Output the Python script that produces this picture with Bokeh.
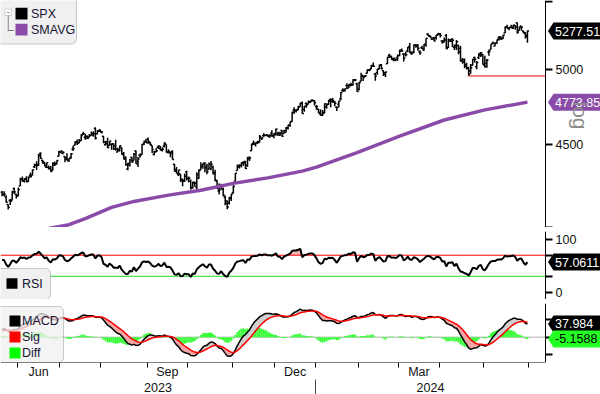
import math
import numpy as np
import pandas as pd
from bokeh.plotting import figure
from bokeh.layouts import column
from bokeh.models import Range1d, FixedTicker, Label, BoxAnnotation, PolyAnnotation, LinearAxis
from bokeh.embed import file_html
from bokeh.resources import INLINE

# ---------------- data ----------------
start_date = "2023-05-19"
end_date = "2024-05-31"
market_holidays = ["2023-05-29", "2023-06-19", "2023-07-04", "2023-09-04", "2023-11-23",
                   "2023-12-25", "2024-01-01", "2024-01-15", "2024-02-19", "2024-03-29", "2024-05-27"]

spx_open = [
    4204, 4191, 4177, 4132, 4155, 4157, 4226, 4191,
    4184, 4241, 4283, 4271, 4285, 4268, 4305, 4308, 4358, 4367, 4366, 4440, 4396, 4380, 4355, 4354, 4345, 4338, 4367, 4377, 4423,
    4450, 4442, 4422, 4405, 4394, 4415, 4467, 4492, 4514, 4508, 4521, 4563, 4543, 4550, 4544, 4555, 4558, 4599, 4565, 4584,
    4578, 4550, 4495, 4514, 4491, 4498, 4502, 4487, 4450, 4459, 4478, 4433, 4416, 4344, 4380, 4416, 4397, 4456, 4390, 4427, 4433, 4500, 4518,
    4530, 4510, 4490, 4434, 4451, 4480, 4474, 4462, 4487, 4497, 4446, 4445, 4452, 4374, 4341, 4311, 4313, 4282, 4269, 4328,
    4285, 4269, 4234, 4259, 4235, 4289, 4339, 4367, 4381, 4360, 4343, 4346, 4357, 4321, 4273, 4211, 4236, 4222, 4175, 4152, 4140, 4172,
    4201, 4268, 4335, 4364, 4366, 4384, 4391, 4365, 4406, 4458, 4505, 4497, 4510, 4511, 4539, 4553, 4555, 4555, 4546, 4571, 4554,
    4559, 4565, 4557, 4586, 4568, 4576, 4601, 4619, 4646, 4721, 4714, 4725, 4743, 4764, 4724, 4764, 4759, 4773, 4786, 4783,
    4745, 4726, 4697, 4690, 4704, 4742, 4759, 4792, 4792, 4773, 4739, 4760, 4797, 4853, 4856, 4888, 4886, 4888, 4892, 4925, 4899,
    4862, 4916, 4951, 4951, 4973, 4996, 5004, 5026, 4968, 4976, 5004, 5032, 4990, 4963, 5039, 5100, 5094, 5074, 5067, 5085,
    5098, 5131, 5110, 5109, 5133, 5164, 5112, 5124, 5174, 5176, 5124, 5154, 5139, 5181, 5254, 5243, 5219, 5228, 5227, 5248,
    5257, 5204, 5194, 5245, 5159, 5211, 5217, 5158, 5172, 5171, 5149, 5065, 5068, 5032, 5006, 4988, 5029, 5085, 5019, 5085, 5114, 5103,
    5029, 5043, 5123, 5142, 5187, 5168, 5190, 5226, 5234, 5222, 5263, 5310, 5303, 5305, 5298, 5319, 5340, 5282, 5315, 5278, 5260, 5244,
]
spx_high = [
    4212, 4210, 4186, 4133, 4165, 4213, 4231, 4195,
    4232, 4291, 4299, 4289, 4300, 4299, 4322, 4340, 4376, 4392, 4439, 4448, 4401, 4387, 4382, 4366, 4363, 4385, 4391, 4398, 4458,
    4457, 4454, 4423, 4441, 4412, 4443, 4489, 4517, 4528, 4532, 4562, 4578, 4565, 4555, 4564, 4580, 4582, 4607, 4590, 4595,
    4584, 4551, 4519, 4540, 4520, 4504, 4503, 4527, 4477, 4491, 4478, 4449, 4421, 4382, 4408, 4418, 4444, 4459, 4418, 4440, 4500, 4521, 4532,
    4541, 4514, 4491, 4458, 4473, 4490, 4487, 4479, 4511, 4497, 4467, 4452, 4461, 4375, 4357, 4338, 4313, 4285, 4317, 4334,
    4298, 4281, 4267, 4268, 4324, 4341, 4385, 4378, 4385, 4377, 4384, 4393, 4365, 4339, 4276, 4256, 4255, 4232, 4184, 4156, 4178, 4194,
    4245, 4319, 4372, 4373, 4386, 4392, 4393, 4419, 4421, 4504, 4522, 4511, 4521, 4557, 4540, 4569, 4560, 4561, 4562, 4588, 4569,
    4599, 4578, 4578, 4590, 4591, 4610, 4623, 4644, 4709, 4739, 4726, 4749, 4769, 4778, 4748, 4772, 4785, 4785, 4793, 4789,
    4755, 4729, 4727, 4721, 4764, 4765, 4790, 4798, 4802, 4782, 4745, 4784, 4842, 4868, 4866, 4903, 4898, 4906, 4930, 4932, 4906,
    4911, 4976, 4958, 4960, 4999, 5000, 5030, 5048, 4975, 5003, 5032, 5038, 4994, 4983, 5088, 5111, 5097, 5082, 5077, 5105,
    5140, 5149, 5114, 5128, 5160, 5190, 5125, 5179, 5179, 5180, 5136, 5170, 5180, 5225, 5261, 5247, 5229, 5236, 5249, 5265,
    5263, 5208, 5229, 5256, 5222, 5219, 5224, 5178, 5211, 5176, 5168, 5080, 5077, 5046, 5019, 5038, 5076, 5089, 5057, 5114, 5124, 5110,
    5096, 5074, 5140, 5181, 5200, 5192, 5215, 5240, 5238, 5250, 5311, 5325, 5305, 5325, 5324, 5323, 5342, 5311, 5316, 5282, 5271, 5281,
]
spx_low = [
    4180, 4180, 4143, 4103, 4129, 4155, 4193, 4167,
    4181, 4241, 4267, 4262, 4264, 4266, 4292, 4305, 4350, 4338, 4363, 4407, 4378, 4360, 4351, 4341, 4328, 4335, 4363, 4372, 4422,
    4442, 4436, 4385, 4397, 4389, 4408, 4456, 4490, 4494, 4505, 4520, 4557, 4527, 4532, 4541, 4552, 4547, 4528, 4563, 4577,
    4567, 4505, 4490, 4474, 4491, 4464, 4462, 4458, 4448, 4453, 4433, 4404, 4364, 4336, 4360, 4382, 4397, 4376, 4356, 4414, 4432, 4493, 4507,
    4501, 4492, 4443, 4430, 4448, 4468, 4459, 4453, 4478, 4447, 4442, 4416, 4402, 4329, 4316, 4302, 4265, 4239, 4265, 4274,
    4262, 4220, 4225, 4236, 4219, 4284, 4339, 4345, 4325, 4312, 4343, 4337, 4312, 4269, 4224, 4190, 4220, 4181, 4127, 4104, 4132, 4153,
    4197, 4268, 4335, 4347, 4354, 4363, 4344, 4358, 4393, 4458, 4495, 4485, 4500, 4511, 4525, 4546, 4552, 4546, 4540, 4547, 4537,
    4554, 4551, 4551, 4546, 4566, 4575, 4593, 4611, 4644, 4695, 4704, 4720, 4743, 4697, 4709, 4737, 4759, 4768, 4780, 4752,
    4723, 4700, 4683, 4682, 4700, 4730, 4757, 4740, 4769, 4747, 4715, 4740, 4786, 4844, 4845, 4866, 4870, 4882, 4888, 4917, 4845,
    4853, 4916, 4919, 4944, 4970, 4987, 5001, 5017, 4920, 4962, 5001, 4999, 4954, 4946, 5038, 5081, 5068, 5058, 5058, 5061,
    5095, 5127, 5056, 5092, 5122, 5117, 5104, 5114, 5155, 5132, 5104, 5146, 5132, 5162, 5240, 5230, 5215, 5203, 5214, 5248,
    5229, 5184, 5194, 5146, 5153, 5197, 5160, 5138, 5139, 5108, 5053, 5040, 5007, 4998, 4953.56, 4969, 5027, 5047, 5001, 5073, 5088, 5035,
    5013, 5012, 5096, 5142, 5182, 5166, 5183, 5208, 5212, 5218, 5263, 5296, 5284, 5298, 5293, 5287, 5257, 5279, 5281, 5262, 5222, 5192,
]
spx_close = [
    4191.98, 4192.63, 4145.58, 4115.24, 4151.28, 4205.45, 4205.52, 4179.83,
    4221.02, 4282.37, 4273.79, 4283.85, 4267.52, 4293.93, 4298.86, 4338.93, 4369.01, 4372.59, 4425.84, 4409.59, 4388.71,
    4365.69, 4381.89, 4348.33, 4328.82, 4378.41, 4376.86, 4396.44, 4450.38,
    4455.59, 4446.82, 4411.59, 4398.95, 4409.53, 4439.26, 4472.16, 4510.04, 4505.42, 4522.79, 4554.98, 4565.72, 4534.87,
    4536.34, 4554.64, 4567.46, 4566.75, 4537.41, 4582.23, 4588.96,
    4576.73, 4513.39, 4501.89, 4478.03, 4518.44, 4499.38, 4467.71, 4468.83, 4464.05, 4489.72, 4437.86, 4404.33, 4370.36,
    4369.71, 4399.77, 4387.55, 4436.01, 4376.31, 4405.71, 4433.31, 4497.63, 4514.87, 4507.66,
    4515.77, 4496.83, 4465.48, 4451.14, 4457.49, 4487.46, 4461.90, 4467.44, 4505.10, 4450.32, 4453.53, 4443.95, 4402.20,
    4330.00, 4320.06, 4337.44, 4273.53, 4274.51, 4299.70, 4288.05,
    4288.39, 4229.45, 4263.75, 4258.19, 4308.50, 4335.66, 4358.24, 4376.95, 4349.61, 4327.78, 4373.63, 4373.20, 4314.60,
    4278.00, 4224.16, 4217.04, 4247.68, 4186.77, 4137.23, 4117.37, 4166.82, 4193.80,
    4237.86, 4317.78, 4358.34, 4365.98, 4378.38, 4382.78, 4347.35, 4415.24, 4411.55, 4495.70, 4502.88, 4508.24, 4514.02,
    4547.38, 4538.19, 4556.62, 4559.34, 4550.43, 4554.89, 4550.58, 4567.80,
    4594.63, 4569.78, 4567.18, 4549.34, 4585.59, 4604.37, 4622.44, 4643.70, 4707.09, 4719.55, 4719.19, 4740.56, 4768.37,
    4698.35, 4746.75, 4754.63, 4774.75, 4781.58, 4783.35, 4769.83,
    4742.83, 4704.81, 4688.68, 4697.24, 4763.54, 4756.50, 4783.45, 4780.24, 4783.83, 4765.98, 4739.21, 4780.94, 4839.81,
    4850.43, 4864.60, 4868.55, 4894.16, 4890.97, 4927.93, 4924.97, 4845.65,
    4906.19, 4958.61, 4942.81, 4954.23, 4995.06, 4997.91, 5026.61, 5021.84, 4953.17, 5000.62, 5029.73, 5005.57, 4975.51,
    4981.80, 5087.03, 5088.80, 5069.53, 5078.18, 5069.76, 5096.27,
    5137.08, 5130.95, 5078.65, 5104.76, 5157.36, 5123.69, 5117.94, 5175.27, 5165.31, 5150.48, 5117.09, 5149.42, 5178.51,
    5224.62, 5241.53, 5234.18, 5218.19, 5203.58, 5248.49, 5254.35,
    5243.77, 5205.81, 5211.49, 5147.21, 5204.34, 5202.39, 5209.91, 5160.64, 5199.06, 5123.41, 5061.82, 5051.41, 5022.21,
    5011.12, 4967.23, 5010.60, 5070.55, 5071.63, 5048.42, 5099.96, 5116.17, 5035.69,
    5018.39, 5064.20, 5127.79, 5180.74, 5187.70, 5187.67, 5214.08, 5222.68, 5221.42, 5246.68, 5308.15, 5297.10, 5303.27,
    5308.13, 5321.41, 5307.01, 5267.84, 5304.72, 5306.04, 5266.95, 5235.48, 5277.51,
]
# closes before the visible window (Mar 1 - May 18 2023), used only to start RSI / MACD
warmup_close = [
    3951.39, 3981.35, 4045.64, 4048.42, 3986.37, 3992.01, 3918.32, 3861.59, 3855.76, 3919.29, 3891.93, 3960.28,
    3916.64, 3951.57, 4002.87, 3936.97, 3948.72, 3970.99, 3977.53, 3971.27, 4027.81, 4050.83, 4109.31,
    4124.51, 4100.60, 4090.38, 4105.02, 4109.11, 4108.94, 4091.95, 4146.22, 4137.64, 4151.32, 4154.87, 4154.52,
    4129.79, 4133.52, 4137.04, 4071.63, 4055.99, 4135.35, 4169.48,
    4167.87, 4119.58, 4090.75, 4061.22, 4136.25, 4138.12, 4119.17, 4137.64, 4130.62, 4124.08, 4136.28, 4109.90,
    4158.77, 4198.05,
]
# 200-day moving average (SMAVG); day 0 = 1 Jun 2023
sma_day = [-8, 0, 15, 25, 33, 46, 57, 74, 90, 106, 123, 140, 147, 167, 188, 210, 230, 251]
sma_value = [3945, 3962, 3994, 4016, 4050, 4115, 4150, 4187, 4216, 4257, 4290, 4331, 4356, 4446, 4551, 4655, 4722, 4773.85]

last_spx = "5277.51"
last_sma = "4773.85"
last_rsi = "57.0611"
last_macd = "37.984"
last_diff = "-5.1588"
rsi_levels = [70, 30]
main_ticks = [4000, 4500, 5000, 5500]
main_tick_labels = {4000: "", 4500: "4500", 5000: "5000", 5500: ""}
rsi_ticks = [0, 30, 70, 100]
rsi_tick_labels = {0: "0", 30: "", 70: "", 100: "100"}
macd_ticks = [-50, 0, 50]
macd_tick_labels = {-50: "", 0: "", 50: ""}
month_label_names = ["Jun", "Sep", "Dec", "Mar"]

# ---------------- derived series ----------------
n = len(spx_close)
dt = pd.bdate_range(start_date, end_date)
dt = dt[~dt.isin(pd.to_datetime(market_holidays))][:n]
first_jun = int(np.argmax(dt >= pd.Timestamp("2023-06-01")))
xi = (np.arange(n) - first_jun).astype(float)

allc = pd.Series(warmup_close + spx_close, dtype=float)
ema12 = allc.ewm(span=12, adjust=False).mean()
ema26 = allc.ewm(span=26, adjust=False).mean()
macd_all = ema12 - ema26
sig_all = macd_all.ewm(span=9, adjust=False).mean()
d = allc.diff().fillna(0.0)
ag = d.clip(lower=0).ewm(alpha=1 / 14, adjust=False).mean()
al = (-d.clip(upper=0)).ewm(alpha=1 / 14, adjust=False).mean()
rsi_all = 100 - 100 / (1 + ag / al)
macd = macd_all.values[-n:]
sig = sig_all.values[-n:]
diff = macd - sig
rsi = rsi_all.values[-n:]

bounds, bnames = [], []
for i in range(1, n):
    if dt[i].month != dt[i - 1].month:
        bounds.append(float(xi[i]) - 0.5)
        bnames.append(dt[i].strftime("%b"))
bounds.append(float(xi[-1]) + 0.5)
bnames.append("end")
mlab_pos, mlab_txt = [], []
for k in range(len(bounds) - 1):
    if bnames[k] in month_label_names:
        mlab_pos.append((bounds[k] + bounds[k + 1]) / 2)
        mlab_txt.append(bnames[k])
jan_bound = bounds[bnames.index("Jan")]

# ---------------- layout ----------------
W = 600
PW = 545                      # width of the data area left of the price axis
H1, HS, H2, H3, HB = 227, 4, 68, 59, 32
X0, XA = -8.78, 259.9         # visible day range up to the axis line
PXX = PW / (XA - X0)
XE = X0 + W / PXX             # right edge of the canvas
Y1A, Y1B = 4000, 5510
Y2A, Y2B = -14, 115
Y3A, Y3B = -73, 97
FONT = "Liberation Sans"
TXT = "#141432"
PURPLE = "#8a4ba8"
xr = Range1d(X0, XE)

def fx(px):
    return X0 + px / PXX

def fy1(py):
    return math.exp(math.log(Y1B) - py * (math.log(Y1B) - math.log(Y1A)) / H1)

def fy2(py):
    return Y2B - py * (Y2B - Y2A) / H2

def fy3(py):
    return Y3B - py * (Y3B - Y3A) / H3

def style_y(ax, ticks, labels):
    ax.fixed_location = XA
    ax.ticker = FixedTicker(ticks=ticks, minor_ticks=[])
    ax.major_label_overrides = labels
    ax.major_tick_out = 7
    ax.major_tick_in = 0
    ax.major_tick_line_width = 2
    ax.minor_tick_out = 0
    ax.minor_tick_in = 0
    ax.axis_line_color = "black"
    ax.major_label_standoff = 3
    ax.major_label_text_font = FONT
    ax.major_label_text_font_size = "12.5px"
    ax.major_label_text_color = "#111111"

def mkfig(h, yr, ylog=False):
    f = figure(width=W, height=h, x_range=xr, y_range=yr, y_axis_type="log" if ylog else "linear",
               y_axis_location="right", x_axis_location=None, toolbar_location=None,
               output_backend="svg", min_border=0, outline_line_color=None,
               background_fill_color="white", border_fill_color="white")
    f.grid.visible = False
    return f

def separator():
    s = figure(width=W, height=HS, x_range=xr, y_range=Range1d(0, HS), x_axis_location=None,
               y_axis_location=None, toolbar_location=None, output_backend="svg", min_border=0,
               outline_line_color=None, background_fill_color="#3c3c3c", border_fill_color="#3c3c3c")
    s.grid.visible = False
    for yy in (2.6, 1.0):
        s.add_layout(BoxAnnotation(left=fx(292), right=fx(307), top=yy + 0.8, bottom=yy, fill_color="#a8a8a8",
                                   fill_alpha=1, line_color=None))
    return s

def value_box(f, yv, text, bg, fg, kind):
    h = 8.5
    if kind == "log":
        k = H1 / (math.log(Y1B) - math.log(Y1A))
        up, dn = yv * math.exp(h / k), yv * math.exp(-h / k)
    else:
        k = H2 / (Y2B - Y2A) if kind == "rsi" else H3 / (Y3B - Y3A)
        up, dn = yv + h / k, yv - h / k
    f.add_layout(PolyAnnotation(xs=[XA + 2.5 / PXX, XA + 8 / PXX, XE + 5, XE + 5, XA + 8 / PXX],
                                ys=[yv, up, up, dn, dn], fill_color=bg, fill_alpha=1, line_color=None))
    f.add_layout(Label(x=XA, y=yv, x_offset=9.5, text=text, text_align="left", text_baseline="middle",
                       text_color=fg, text_font=FONT, text_font_size="12.5px"))

def box(f, l, r, t, b, color, alpha=1.0, line=None, radius=0):
    f.add_layout(BoxAnnotation(left=l, right=r, top=t, bottom=b, fill_color=color, fill_alpha=alpha,
                               line_color=line, line_width=1, border_radius=radius))

def text(f, x, y, s, size="12.5px"):
    f.add_layout(Label(x=x, y=y, text=s, text_baseline="middle", text_font=FONT,
                       text_font_size=size, text_color=TXT))

# ---- main panel ----
p1 = mkfig(H1, Range1d(Y1A, Y1B), ylog=True)
style_y(p1.yaxis[0], main_ticks, main_tick_labels)
bw = 0.8
p1.segment(x0=xi, y0=spx_low, x1=xi, y1=spx_high, line_color="black", line_width=1.5)
p1.segment(x0=xi - bw, y0=spx_open, x1=xi, y1=spx_open, line_color="black", line_width=1.5)
p1.segment(x0=xi, y0=spx_close, x1=xi + bw, y1=spx_close, line_color="black", line_width=1.5)
p1.line(sma_day, sma_value, line_color=PURPLE, line_width=3.5)
apr_start = int(np.argmax(dt >= pd.Timestamp("2024-04-01")))
low_i = apr_start + int(np.argmin(spx_low[apr_start:]))
p1.segment(x0=[xi[low_i]], y0=[spx_low[low_i]], x1=[XA], y1=[spx_low[low_i]], line_color="#e00000", line_width=1)

box(p1, fx(-4), fx(76), fy1(-4), fy1(43.5), "#f0f0f0", 1.0, "#5a5a5a", 5)
box(p1, fx(4.5), fx(11), fy1(8.5), fy1(15), "white", 1.0, "#7a7a7a")
box(p1, fx(6.2), fx(9.4), fy1(11.4), fy1(12.3), "#7a7a7a")
box(p1, fx(7.3), fx(8.2), fy1(15), fy1(30.5), "#7a7a7a")
box(p1, fx(7.3), fx(13.5), fy1(29.6), fy1(30.5), "#7a7a7a")
box(p1, fx(15), fx(27), fy1(7.3), fy1(19), "black")
box(p1, fx(15), fx(27), fy1(23.3), fy1(35), PURPLE)
text(p1, fx(30.5), fy1(13.7), "SPX")
text(p1, fx(30.5), fy1(29.8), "SMAVG")
value_box(p1, spx_close[-1], last_spx, "black", "white", "log")
value_box(p1, sma_value[-1], last_sma, PURPLE, "white", "log")
p1.add_layout(Label(x=XA + 35 / PXX, y=fy1(115), text="log", angle=-math.pi / 2, text_align="center",
                    text_baseline="middle", text_font=FONT, text_font_size="21px", text_color="#8c8c8c"))

# ---- RSI panel ----
p2 = mkfig(H2, Range1d(Y2A, Y2B))
style_y(p2.yaxis[0], rsi_ticks, rsi_tick_labels)
p2.varea(x=xi, y1=np.full(n, 70.0), y2=np.maximum(rsi, 70.0), fill_color="#f7b4b4")
p2.varea(x=xi, y1=np.minimum(rsi, 30.0), y2=np.full(n, 30.0), fill_color="#b4f0b4")
p2.segment(x0=[X0, X0], y0=rsi_levels, x1=[XA, XA], y1=rsi_levels, line_color=["#ff0000", "#22dd22"], line_width=1)
p2.line(xi, rsi, line_color="black", line_width=2)
box(p2, fx(-6), fx(50), fy2(37), fy2(68), "#f0f0f0", 1.0, "#5a5a5a", 5)
box(p2, fx(6), fx(17), fy2(46.7), fy2(57.3), "black")
text(p2, fx(21.5), fy2(52), "RSI")
value_box(p2, float(last_rsi), last_rsi, "black", "white", "rsi")

# ---- MACD panel ----
p3 = mkfig(H3, Range1d(Y3A, Y3B))
style_y(p3.yaxis[0], macd_ticks, macd_tick_labels)
p3.segment(x0=[X0], y0=[0], x1=[XA], y1=[0], line_color="#b0b0b0", line_width=1)
p3.vbar(x=xi, top=diff, bottom=0, width=1.0, fill_color="#33ff33", line_color=None)
p3.varea(x=xi, y1=sig, y2=np.maximum(macd, sig), fill_color="#cfcfcf")
p3.varea(x=xi, y1=np.minimum(macd, sig), y2=sig, fill_color="#f2a6a6")
p3.line(xi, macd, line_color="black", line_width=1.5)
p3.line(xi, sig, line_color="#ff0000", line_width=1.5)
box(p3, fx(-6), fx(63), fy3(3), fy3(59), "#f0f0f0", 0.75, "#5a5a5a", 5)
for (yy, col, txt) in [(12, "black", "MACD"), (28, "#ff0000", "Sig"), (44, "#00ff00", "Diff")]:
    box(p3, fx(9), fx(20), fy3(yy), fy3(yy + 11), col)
    text(p3, fx(21.5), fy3(yy + 5.5), txt)
value_box(p3, float(last_macd), last_macd, "black", "white", "macd")
value_box(p3, float(last_diff), last_diff, "#22ff22", "black", "macd")

# ---- date axis strip ----
pb = figure(width=W, height=HB, x_range=xr, y_range=Range1d(0, HB), x_axis_location=None, y_axis_location=None,
            toolbar_location=None, output_backend="svg", min_border=0, outline_line_color=None,
            background_fill_color="white", border_fill_color="white")
pb.grid.visible = False
no_labels = {b: "" for b in bounds}
ax_t = LinearAxis(ticker=FixedTicker(ticks=bounds, minor_ticks=[]), major_label_overrides=no_labels,
                  fixed_location=HB, bounds=(X0, XA), major_tick_out=5, major_tick_in=0,
                  axis_line_color="black", major_tick_line_color="black", major_label_text_font_size="1px")
pb.add_layout(ax_t, "below")
ax_m = LinearAxis(ticker=FixedTicker(ticks=mlab_pos, minor_ticks=[]),
                  major_label_overrides=dict(zip(mlab_pos, mlab_txt)), fixed_location=HB,
                  major_tick_out=0, major_tick_in=0, axis_line_color=None, major_tick_line_color=None,
                  major_label_standoff=2, major_label_text_font=FONT, major_label_text_font_size="12.5px",
                  major_label_text_color="#111111")
pb.add_layout(ax_m, "below")
ax_d = LinearAxis(ticker=FixedTicker(ticks=[jan_bound], minor_ticks=[]), major_label_overrides={jan_bound: ""},
                  fixed_location=HB - 17, major_tick_out=17, major_tick_in=0, axis_line_color=None,
                  major_tick_line_color="#444444", major_label_text_font_size="1px")
pb.add_layout(ax_d, "below")
ylab_pos = [(X0 + jan_bound) / 2, (jan_bound + XA) / 2]
ax_y = LinearAxis(ticker=FixedTicker(ticks=ylab_pos, minor_ticks=[]),
                  major_label_overrides={ylab_pos[0]: "2023", ylab_pos[1]: "2024"}, fixed_location=HB - 17,
                  major_tick_out=0, major_tick_in=0, axis_line_color=None, major_tick_line_color=None,
                  major_label_standoff=3, major_label_text_font=FONT, major_label_text_font_size="12.5px",
                  major_label_text_color="#111111")
pb.add_layout(ax_y, "below")

layout = column(p1, separator(), p2, separator(), p3, pb, spacing=0)
open("out.html", "w").write(file_html(layout, INLINE))
